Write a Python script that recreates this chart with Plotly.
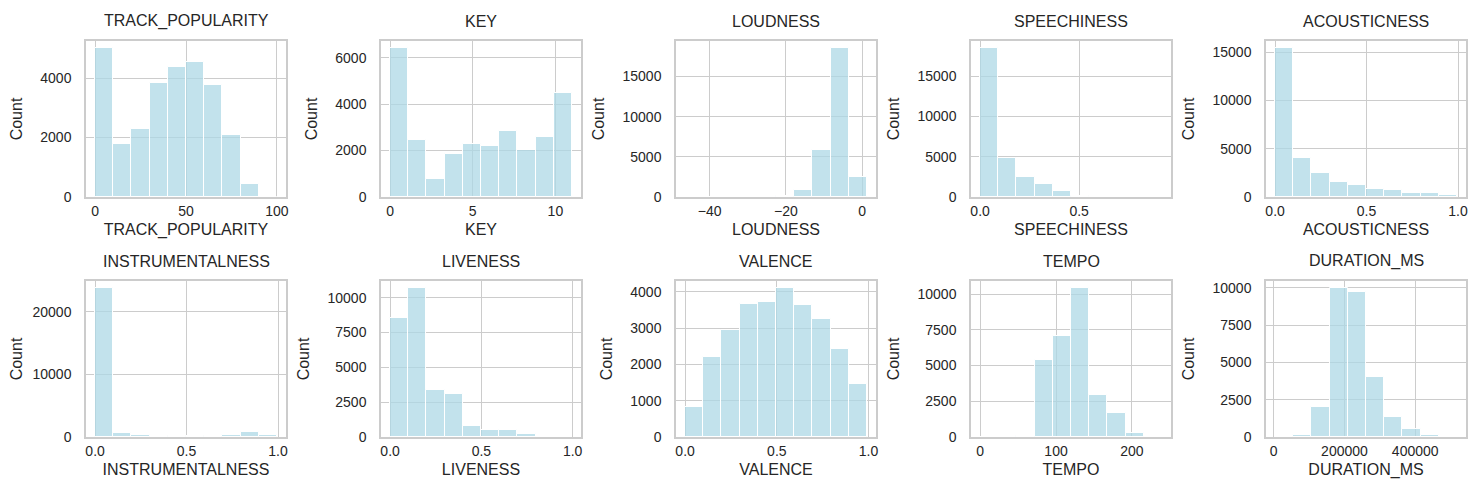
import numpy as np
import plotly.graph_objects as go

# feature names (subplot order, 2 rows x 5 cols)
features = ['TRACK_POPULARITY', 'KEY', 'LOUDNESS', 'SPEECHINESS', 'ACOUSTICNESS',
            'INSTRUMENTALNESS', 'LIVENESS', 'VALENCE', 'TEMPO', 'DURATION_MS']

# data min / max of each column (10 equal bins in between)
range_min = [0, 0, -46.448, 0.0, 0.0, 0.0, 0.0, 0.0, 0.0, 4000]
range_max = [100, 11, 1.275, 0.918, 0.994, 0.994, 0.996, 0.991, 239.44, 517810]

# bin counts
track_popularity = [5000, 1775, 2290, 3830, 4390, 4530, 3775, 2100, 430, 8]
key = [6400, 2450, 770, 1855, 2275, 2205, 2855, 2030, 2565, 4495]
loudness = [3, 6, 12, 25, 45, 90, 915, 5900, 18495, 2495]
speechiness = [18430, 4805, 2485, 1575, 745, 90, 45, 20, 10, 4]
acousticness = [15380, 4030, 2465, 1600, 1285, 870, 730, 455, 450, 175]
instrumentalness = [23750, 700, 375, 150, 100, 110, 180, 360, 880, 350]
liveness = [8560, 10670, 3365, 3075, 795, 480, 480, 190, 35, 10]
valence = [830, 2215, 2935, 3665, 3705, 4090, 3630, 3250, 2410, 1450]
tempo = [3, 1, 40, 5410, 7095, 10400, 2925, 1710, 305, 6]
duration_ms = [5, 135, 2020, 9955, 9685, 4000, 1370, 560, 135, 20]

counts = [track_popularity, key, loudness, speechiness, acousticness,
          instrumentalness, liveness, valence, tempo, duration_ms]

# tick values per subplot
x_ticks = [[0, 50, 100], [0, 5, 10], [-40, -20, 0], [0, 0.5], [0, 0.5, 1],
           [0, 0.5, 1], [0, 0.5, 1], [0, 0.5, 1], [0, 100, 200], [0, 200000, 400000]]
x_tick_text = [['0', '50', '100'], ['0', '5', '10'], ['\u221240', '\u221220', '0'],
               ['0.0', '0.5'], ['0.0', '0.5', '1.0'], ['0.0', '0.5', '1.0'],
               ['0.0', '0.5', '1.0'], ['0.0', '0.5', '1.0'], ['0', '100', '200'],
               ['0', '200000', '400000']]
y_ticks = [[0, 2000, 4000], [0, 2000, 4000, 6000], [0, 5000, 10000, 15000],
           [0, 5000, 10000, 15000], [0, 5000, 10000, 15000], [0, 10000, 20000],
           [0, 2500, 5000, 7500, 10000], [0, 1000, 2000, 3000, 4000],
           [0, 2500, 5000, 7500, 10000], [0, 2500, 5000, 7500, 10000]]

W, H = 1479, 503
col_left = [78, 373, 668, 963, 1258]
ax_w = 200
row_top = [33, 273]
ax_h = 156

GRID = '#cccccc'
TXT = '#262626'
FONT = 'Liberation Sans, Arial, sans-serif'

fig = go.Figure()
annotations = []

for i, name in enumerate(features):
    r, c = divmod(i, 5)
    n = i + 1
    xa = 'x' if n == 1 else f'x{n}'
    ya = 'y' if n == 1 else f'y{n}'

    edges = np.linspace(range_min[i], range_max[i], 11)
    centers = (edges[:-1] + edges[1:]) / 2
    bw = edges[1] - edges[0]

    fig.add_trace(go.Bar(
        x=centers, y=counts[i], width=bw,
        marker=dict(color='rgba(173,216,230,0.75)', line=dict(color='white', width=1)),
        xaxis=xa, yaxis=ya, showlegend=False, hoverinfo='x+y'
    ))

    span = range_max[i] - range_min[i]
    x0, x1 = range_min[i] - 0.05 * span, range_max[i] + 0.05 * span
    ymax = max(counts[i]) * 1.05

    xd = [col_left[c] / W, (col_left[c] + ax_w) / W]
    yd = [1 - (row_top[r] + ax_h) / H, 1 - row_top[r] / H]

    axis_common = dict(
        showgrid=True, gridcolor=GRID, gridwidth=1,
        showline=True, linecolor=GRID, linewidth=1.5, mirror=True,
        zeroline=False, ticks='', automargin=False,
        tickfont=dict(family=FONT, size=14, color=TXT),
    )
    fig.layout[f'xaxis{"" if n == 1 else n}'] = dict(
        axis_common, domain=xd, anchor=ya, range=[x0, x1],
        tickvals=x_ticks[i], ticktext=x_tick_text[i],
        title=dict(text=name, font=dict(family=FONT, size=16, color=TXT), standoff=6),
    )
    fig.layout[f'yaxis{"" if n == 1 else n}'] = dict(
        axis_common, domain=yd, anchor=xa, range=[0, ymax],
        tickvals=y_ticks[i], ticktext=[str(v) for v in y_ticks[i]],
        ticklabelstandoff=10,
        title=dict(text='Count', font=dict(family=FONT, size=16, color=TXT), standoff=14),
    )

    annotations.append(dict(
        text=name, xref='paper', yref='paper',
        x=(xd[0] + xd[1]) / 2, y=yd[1], xanchor='center', yanchor='bottom',
        yshift=9, showarrow=False,
        font=dict(family=FONT, size=16, color=TXT),
    ))

fig.update_layout(
    width=W, height=H,
    margin=dict(l=0, r=0, t=0, b=0),
    paper_bgcolor='white', plot_bgcolor='white',
    annotations=annotations,
    bargap=0,
)

fig.write_html("out.html")
